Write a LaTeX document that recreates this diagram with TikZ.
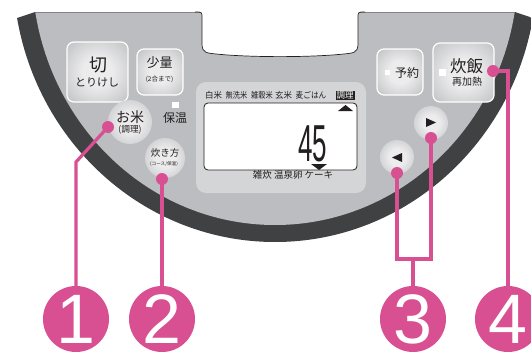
\documentclass[tikz,border=0pt]{standalone}
\usepackage{fontspec}
\setmainfont{Noto Sans CJK JP}
\newfontfamily\numfont{Liberation Sans}
\usepackage{tikz}
\usetikzlibrary{positioning}
\definecolor{ink}{RGB}{35,31,32}
\definecolor{rim}{RGB}{64,65,67}
\definecolor{face}{RGB}{188,189,192}
\definecolor{panel}{RGB}{212,213,215}
\definecolor{glowc}{RGB}{236,236,237}
\definecolor{callout}{RGB}{216,80,145}
\pgfdeclareradialshading{keyglow}{\pgfpoint{0bp}{0bp}}{color(0bp)=(glowc); color(12bp)=(glowc); color(38bp)=(face); color(50bp)=(face)}
\newcommand{\fs}[1]{\fontsize{#1}{#1}\selectfont}
\tikzset{
  keybox/.style={draw=white,line width=1.2pt,rounded corners=7pt,shade,shading=keyglow,inner sep=0pt},
  glow/.style={circle,shade,shading=keyglow,inner sep=0pt},
  lbl/.style={text=ink,inner sep=0pt,align=center},
  lamp/.style={fill=white,inner sep=0pt},
  pindot/.style={circle,fill=callout,minimum size=12pt,inner sep=0pt},
  lead/.style={callout,line width=3.2pt},
  badge/.style={circle,fill=callout,minimum size=66pt,inner sep=0pt,text=white,
    font=\numfont\fs{70}},
}

\begin{document}
\begin{tikzpicture}[x=1pt,y=-1pt]
  \fill[white] (0,0) rectangle (531,356);
  \useasboundingbox (0,0) rectangle (531,356);
  \begin{scope}
    \clip (0,23.7) -- (35,12) -- (515,12) -- (550,23.7) -- (550,300) -- (0,300) -- cycle;
    \fill[rim] (275,-30) ellipse [x radius=262, y radius=272];
    \fill[face] (275,-30) ellipse [x radius=243, y radius=255];
  \end{scope}
  \draw[face!70!black,line width=0.6pt] (35,12) -- (515,12);
  \path[fill=white,draw=ink,line width=0.7pt] (195,12) .. controls (202,12) .. (202,18) -- (202,44)
    .. controls (202,53) and (207,53) .. (216,54) .. controls (250,57.5) and (310,57.5) .. (344,54)
    .. controls (353,53) and (358,53) .. (358,44) -- (358,18) .. controls (358,12) .. (365,12);
  \fill[panel,rounded corners=10pt] (196,82) rectangle (366,193);
  \node[draw=ink,fill=white,rounded corners=4pt,line width=0.8pt,minimum width=153,
    minimum height=67,inner sep=0pt] (lcd) at (280.5,136.5) {};
  \fill[ink] (338,111) -- (353,111) -- (345.5,105) -- cycle;
  \fill[ink] (311,164) -- (327,164) -- (319,170) -- cycle;
  \node[lbl,font=\numfont\fs{52},xscale=0.5] (count) at (312.5,143.5) {45};
  \node[lbl,font=\fs{8.5}] (hakumai) at (213.5,95.5) {白米};
  \node[lbl,font=\fs{8.5},xscale=0.85] (musenmai) at (236.5,95.5) {無洗米};
  \node[lbl,font=\fs{8.5},xscale=0.85] (zakkoku) at (262,95.5) {雑穀米};
  \node[lbl,font=\fs{8.5}] (genmai) at (283.5,95.5) {玄米};
  \node[lbl,font=\fs{8.5},xscale=0.9] (mugi) at (311,95.5) {麦ごはん};
  \node[lbl,font=\fs{8.5},fill=ink,text=white,inner sep=1pt] (chori) at (345,95.5) {調理};
  \node[lbl,font=\fs{9.5}] (menu) at (293,175) {雑炊 温泉卵 ケーキ};

  \node[keybox,minimum width=61,minimum height=60] (kiri) at (97.5,72) {};
  \node[keybox,minimum width=46,minimum height=46] (shoryo) at (160,72) {};
  \node[keybox,minimum width=46,minimum height=46] (yoyaku) at (400,72) {};
  \node[keybox,minimum width=61,minimum height=59] (suihan) at (463.5,72.5) {};
  \node[glow,minimum size=44] (okomeglow) at (130,122) {};
  \node[glow,minimum size=40] (takiglow) at (165,158) {};
  \node[glow,minimum size=34] (right) at (431,123) {};
  \node[glow,minimum size=34] (left) at (397,157) {};
  \fill[ink] (426,118) -- (436,122.5) -- (426,127) -- cycle;
  \fill[ink] (402,153) -- (392,157.5) -- (402,162) -- cycle;

  \node[lbl,font=\fs{18}] (kiritxt) at (98,65) {切};
  \node[lbl,font=\fs{11}] (torikeshi) at (97,82) {とりけし};
  \node[lbl,font=\fs{13}] (shoryotxt) at (159.5,63) {少量};
  \node[lbl,font=\fs{6.5}] (nigo) at (159.5,79) {(2合まで)};
  \node[lamp,minimum size=6.5] (horamp) at (175.5,105) {};
  \node[lbl,font=\fs{12}] (hoon) at (175,117.5) {保温};
  \node[lbl,font=\fs{14}] (okome) at (130,117) {お米};
  \node[lbl,font=\fs{8.7}] (okomesub) at (130,129.5) {(調理)};
  \node[lbl,font=\fs{9.5}] (takikata) at (165,153) {炊き方};
  \node[lbl,font=\fs{4.6}] (takisub) at (164,164.5) {(コース/保温)};
  \node[lamp,minimum size=5.5] (yolamp) at (387.5,72.5) {};
  \node[lbl,font=\fs{12}] (yoyakutxt) at (407,73) {予約};
  \node[lamp,minimum size=7] (sulamp) at (442.5,72.5) {};
  \node[lbl,font=\fs{16.5}] (suihantxt) at (466.5,66) {炊飯};
  \node[lbl,font=\fs{10}] (saikanetsu) at (467,82) {再加熱};

  \node[pindot] (pOkome) at (108,127) {};
  \node[pindot] (pTaki) at (162,179) {};
  \node[pindot] (pLeft) at (397,173) {};
  \node[pindot] (pRight) at (431,138) {};
  \node[pindot] (pSuihan) at (493,71) {};
  \node[badge] (n1) at (76,319) {1};
  \node[badge] (n2) at (162,319) {2};
  \node[badge] (n3) at (413,319) {3};
  \node[badge] (n4) at (508,319) {4};
  \coordinate (bend1) at (76,162);
  \coordinate (fork3) at (413,259);
  \draw[lead] (pOkome.center) -- (bend1) -- (n1);
  \draw[lead] (pTaki.center) -- (n2);
  \draw[lead] (pLeft.center) |- (fork3) -| (pRight.center);
  \draw[lead] (fork3) -- (n3);
  \draw[lead] (pSuihan.center) -| (n4);
\end{tikzpicture}
\end{document}
